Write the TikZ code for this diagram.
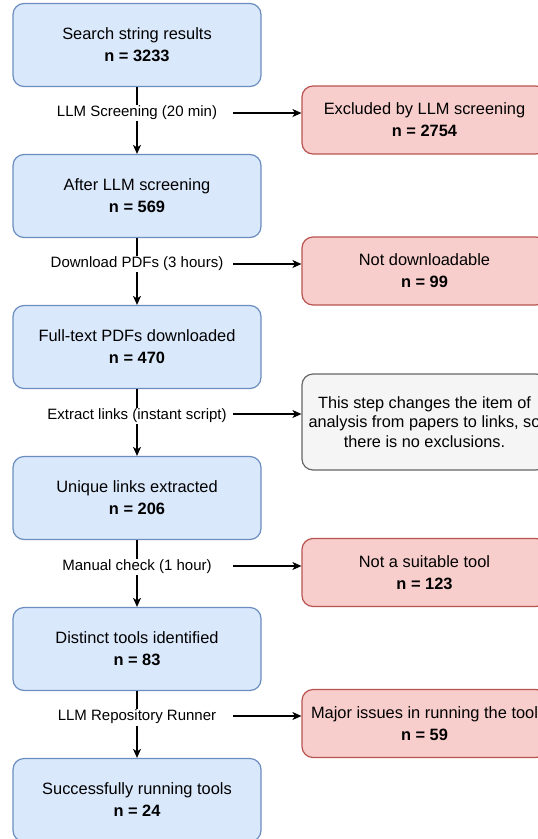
\documentclass[tikz,border=0pt]{standalone}
\usepackage{fontspec}
\setmainfont{Liberation Sans}
\usetikzlibrary{arrows.meta}
\definecolor{bfill}{HTML}{DAE8FC}
\definecolor{bstroke}{HTML}{6C8EBF}
\definecolor{rfill}{HTML}{F8CECC}
\definecolor{rstroke}{HTML}{B85450}
\definecolor{gfill}{HTML}{F5F5F5}
\definecolor{gstroke}{HTML}{666666}
\begin{document}
\begin{tikzpicture}[x=1pt,y=-1pt,
  basebox/.style={line width=1.2pt, rounded corners=11pt, align=center, inner sep=0pt,
    font=\fontsize{16.4}{22}\selectfont},
  mainbox/.style={basebox, draw=bstroke, fill=bfill, minimum width=248pt, minimum height=83pt},
  exclbox/.style={basebox, draw=rstroke, fill=rfill, minimum width=245pt, minimum height=68pt},
  notebox/.style={basebox, draw=gstroke, fill=gfill, minimum width=245pt, minimum height=96pt,
    font=\fontsize{16.3}{19.6}\selectfont},
  lbl/.style={fill=white, inner sep=1.5pt, font=\fontsize{15}{18}\selectfont},
  arr/.style={line width=1.3pt, -{Stealth[length=9pt,width=8pt,inset=2.5pt]}}
]
\useasboundingbox (0,0) rectangle (538,839);
\clip (0,0) rectangle (538,839);

% main column
\node[mainbox] (b1) at (137,45)  {Search string results\\\textbf{n = 3233}};
\node[mainbox] (b2) at (137,196) {After LLM screening\\\textbf{n = 569}};
\node[mainbox] (b3) at (137,347) {Full-text PDFs downloaded\\\textbf{n = 470}};
\node[mainbox] (b4) at (137,498) {Unique links extracted\\\textbf{n = 206}};
\node[mainbox] (b5) at (137,649) {Distinct tools identified\\\textbf{n = 83}};
\node[mainbox] (b6) at (137,800) {Successfully running tools\\\textbf{n = 24}};

% side boxes
\node[exclbox] (r1) at (424.5,120) {Excluded by LLM screening\\\textbf{n = 2754}};
\node[exclbox] (r2) at (424.5,271) {Not downloadable\\\textbf{n = 99}};
\node[notebox] (g3) at (424.5,422) {This step changes the item of\\analysis from papers to links, so\\there is no exclusions.};
\node[exclbox] (r4) at (424.5,572.5) {Not a suitable tool\\\textbf{n = 123}};
\node[exclbox] (r5) at (424.5,723.5) {Major issues in running the tool\\\textbf{n = 59}};

% vertical arrows
\draw[arr] (b1) -- (b2);
\draw[arr] (b2) -- (b3);
\draw[arr] (b3) -- (b4);
\draw[arr] (b4) -- (b5);
\draw[arr] (b5) -- (b6);

% labels
\node[lbl] (l1) at (137,113) {LLM Screening (20 min)};
\node[lbl] (l2) at (137,264) {Download PDFs (3 hours)};
\node[lbl] (l3) at (137,416) {Extract links (instant script)};
\node[lbl] (l4) at (137,567) {Manual check (1 hour)};
\node[lbl] (l5) at (137,717) {LLM Repository Runner};

% horizontal arrows
\coordinate (h1) at (233,113);
\coordinate (h2) at (233,264);
\coordinate (h3) at (233,414);
\coordinate (h4) at (233,566);
\coordinate (h5) at (233,716);
\draw[arr] (h1) -- (h1 -| r1.west);
\draw[arr] (h2) -- (h2 -| r2.west);
\draw[arr] (h3) -- (h3 -| g3.west);
\draw[arr] (h4) -- (h4 -| r4.west);
\draw[arr] (h5) -- (h5 -| r5.west);
\end{tikzpicture}
\end{document}
